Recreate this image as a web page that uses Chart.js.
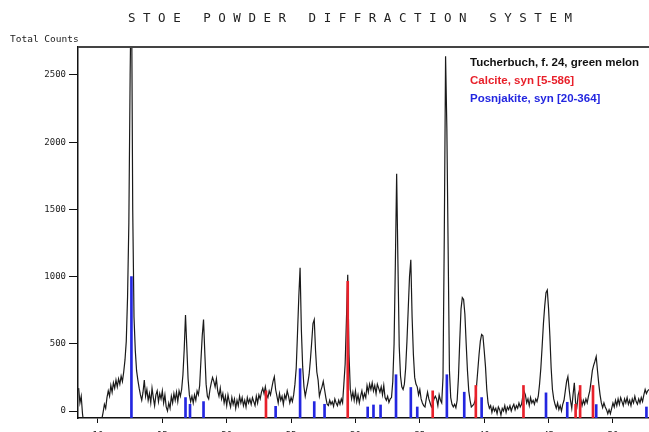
<html>
<head>
<title>STOE powder diffraction - Tucherbuch f. 24</title>
<script src="https://cdn.jsdelivr.net/npm/chart.js@4/dist/chart.umd.min.js"></script>
<style>
  body { margin: 0; background: #fff; }
  #wrap { position: relative; width: 649px; height: 432px; overflow: hidden; }
  #title { position: absolute; left: 0; width: 700px; top: 12px; text-align: center;
           font: 12.5px/12.5px "DejaVu Sans Mono", monospace; color: #222; white-space: pre; }
  #ylab { position: absolute; left: 10px; top: 33.5px; font: 9.5px/9.5px "DejaVu Sans Mono", monospace; color: #222; }
  #legend { position: absolute; left: 470px; top: 53px; font: bold 11.5px/18.2px "Liberation Sans", Arial, sans-serif; }
</style>
</head>
<body>
<div id="wrap">
  <canvas id="xrd" width="649" height="432"></canvas>
  <div id="title">S T O E   P O W D E R   D I F F R A C T I O N   S Y S T E M</div>
  <div id="ylab">Total Counts</div>
  <div id="legend"></div>
</div>
<script>
// scan: 2-theta from 8.5 deg in 0.1 deg steps
var scanStart = 8.5;
var scanStep = 0.1;
var counts = [
  170, 60, 110, -20, -100,                                   // 8.5 - 8.9
  -100, -100, -100, -100, -100, -100, -100, -100, -100, -100, // 9
  -100, -100, -100, -60, -10, 50, 20, 100, 150, 110,         // 10
  190, 140, 210, 170, 230, 180, 240, 200, 260, 220,          // 11
  290, 380, 520, 850, 1400, 2500, 3300, 1500, 700, 450,      // 12
  300, 230, 170, 120, 80, 140, 230, 110, 160, 80,            // 13
  130, 60, 170, 100, 40, 120, 150, 70, 130, 90,              // 14
  150, 60, 120, 30, 0, 60, 20, 110, 60, 130,                 // 15
  80, 140, 70, 150, 110, 160, 270, 460, 715, 480,            // 16
  240, 120, 70, 110, 60, 120, 80, 150, 120, 190,             // 17
  380, 560, 680, 430, 200, 110, 90, 160, 210, 250,           // 18
  220, 180, 240, 150, 110, 170, 90, 130, 60, 110,            // 19
  40, 120, 70, 30, 100, 50, 90, 20, 80, 40,                  // 20
  110, 60, 100, 40, 80, 30, 100, 60, 90, 50,                 // 21
  100, 70, 40, 110, 60, 120, 90, 140, 170, 130,              // 22
  180, 120, 100, 150, 120, 170, 220, 255, 160, 110,          // 23
  60, 130, 80, 110, 50, 120, 90, 150, 110, 60,               // 24
  100, 70, 120, 200, 320, 580, 850, 1065, 600, 330,          // 25
  180, 110, 160, 210, 270, 380, 510, 650, 680, 450,          // 26
  290, 230, 110, 150, 180, 220, 160, 100, 50, 40,            // 27
  80, 50, 70, 35, 90, 60, 40, 80, 50, 90,                    // 28
  60, 200, 350, 680, 1014, 420, 160, 90, 140, 80,            // 29
  150, 70, 120, 60, 110, 150, 90, 130, 100, 190,             // 30
  140, 200, 160, 210, 150, 190, 130, 200, 170, 140,          // 31
  180, 120, 190, 100, 80, 110, 65, 90, 100, 220,             // 32
  500, 1100, 1765, 1100, 480, 260, 180, 160, 200, 320,       // 33
  520, 760, 1000, 1125, 700, 420, 250, 200, 180, 120,        // 34
  160, 90, 60, 40, 30, 90, 140, 90, 60, 30,                  // 35
  50, 90, 110, 90, 40, 120, 80, 60, 250, 1300,               // 36
  2640, 2100, 1200, 300, 100, 50, 30, 50, 25, 80,            // 37
  250, 520, 760, 843, 830, 720, 500, 300, 150, 80,           // 38
  30, 40, 50, 80, 180, 300, 420, 520, 570, 560,              // 39
  450, 330, 160, 60, 20, 40, -10, 30, 0, 20,                 // 40
  -20, 30, 10, -30, 20, 0, 40, -10, 30, 10,                  // 41
  40, 0, 30, 50, 10, 40, 20, 60, 30, 50,                     // 42
  110, 145, 120, 60, 90, 40, 100, 60, 80, 50,                // 43
  90, 70, 110, 200, 320, 480, 650, 780, 880, 900,            // 44
  760, 560, 320, 160, 90, 50, 20, 60, 10, 40,                // 45
  0, 50, 80, 150, 220, 256, 160, 80, 20, 120,                // 46
  210, 60, 30, 120, 155, 90, 40, 80, 50, 90,                 // 47
  60, 110, 150, 220, 300, 340, 370, 405, 300, 200,           // 48
  120, 60, 25, 60, 30, 10, -20, 10, -20, 20,                 // 49
  60, 30, 80, 40, 90, 50, 100, 70, 40, 90,                   // 50
  60, 100, 50, 80, 40, 90, 60, 110, 70, 50,                  // 51
  90, 60, 100, 70, 120, 160, 130, 150, 160                   // 52.0 - 52.8
];
var twoTheta = counts.map((c, i) => +(scanStart + i * scanStep).toFixed(2));

// reference patterns (stick positions and heights)
var calcitePos = [23.05, 29.4, 36.0, 39.35, 43.05, 47.1, 47.45, 48.45];
var calciteInt = [150, 965, 150, 190, 190, 50, 190, 190];
var posnjakitePos = [12.6, 16.8, 17.15, 18.2, 23.8, 25.7, 26.8, 27.6, 30.95, 31.4, 31.95, 33.15, 34.3, 34.8, 37.1, 38.45, 39.8, 44.8, 46.45, 48.7, 52.6];
var posnjakiteInt = [1000, 100, 50, 70, 35, 315, 70, 50, 30, 45, 45, 270, 175, 30, 270, 140, 100, 135, 65, 48, 30];

var xTicks = [10, 15, 20, 25, 30, 35, 40, 45, 50];
var yTicks = [0, 500, 1000, 1500, 2000, 2500];
var yMin = -52, yMax = 2708;

var tickFont = { family: "'DejaVu Sans Mono', monospace", size: 9 };

const topLine = {
    id: 'topLine',
    afterDraw(chart) {
        var a = chart.chartArea, c = chart.ctx;
        c.save();
        c.strokeStyle = '#444';
        c.lineWidth = 2;
        c.beginPath();
        c.moveTo(a.left, a.top);
        c.lineTo(a.right, a.top);
        c.stroke();
        c.restore();
    }
};

const ctx = document.getElementById('xrd');
const chart = new Chart(ctx, {
    type: 'line',
    data: {
        datasets: [
            {
                type: 'line',
                label: 'Tucherbuch, f. 24, green melon',
                data: twoTheta.map((x, i) => ({ x: x, y: counts[i] })),
                borderColor: '#1a1a1a',
                borderWidth: 1.2,
                pointRadius: 0,
                tension: 0,
                order: 2,
            },
            {
                type: 'bar',
                label: 'Calcite, syn [5-586]',
                data: calcitePos.map((x, i) => ({ x: x, y: [yMin, calciteInt[i]] })),
                backgroundColor: '#e8202a',
                barThickness: 2,
                grouped: false,
                order: 1,
            },
            {
                type: 'bar',
                label: 'Posnjakite, syn [20-364]',
                data: posnjakitePos.map((x, i) => ({ x: x, y: [yMin, posnjakiteInt[i]] })),
                backgroundColor: '#2326e0',
                barThickness: 2,
                grouped: false,
                order: 1,
            },
        ]
    },
    options: {
        responsive: false,
        animation: false,
        layout: { padding: { top: 47, right: 0, left: 0, bottom: 0 } },
        plugins: {
            legend: { display: false },
            tooltip: { enabled: false },
        },
        scales: {
            x: {
                type: 'linear',
                min: 8.45,
                max: 52.8,
                offset: false,
                afterBuildTicks: s => { s.ticks = xTicks.map(v => ({ value: v })); },
                afterFit: s => { s.height = 14; },
                grid: { display: true, drawOnChartArea: false, offset: false, tickLength: 5, color: '#111' },
                border: { color: '#111', width: 1.5 },
                ticks: { font: tickFont, color: '#222', padding: 7, maxRotation: 0, callback: v => String(v) },
            },
            y: {
                type: 'linear',
                min: yMin,
                max: yMax,
                afterBuildTicks: s => { s.ticks = yTicks.map(v => ({ value: v })); },
                afterFit: s => { s.width = 78; },
                grid: { display: true, drawOnChartArea: false, tickLength: 9, color: '#111' },
                border: { color: '#111', width: 1.5 },
                ticks: { font: tickFont, color: '#222', padding: 3, callback: v => String(v) },
            }
        }
    },
    plugins: [topLine]
});

// text legend, coloured like the datasets
var legendColors = ['#111', '#e8202a', '#2326e0'];
document.getElementById('legend').innerHTML = chart.data.datasets
    .map((d, i) => '<div style="color:' + legendColors[i] + '">' + d.label + '</div>')
    .join('');
</script>
</body>
</html>
